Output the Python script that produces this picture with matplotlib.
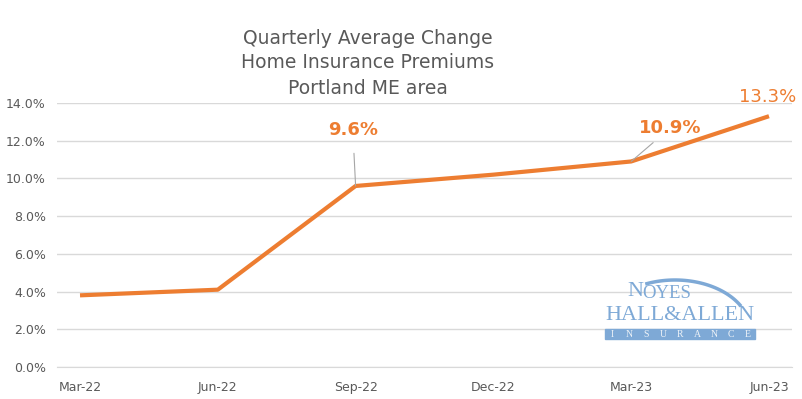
import numpy as np
import matplotlib.pyplot as plt
from matplotlib.patches import Rectangle
from matplotlib.lines import Line2D

quarters = ['Mar-22', 'Jun-22', 'Sep-22', 'Dec-22', 'Mar-23', 'Jun-23']
change = [3.8, 4.1, 9.6, 10.2, 10.9, 13.3]
yticks = [0, 2, 4, 6, 8, 10, 12, 14]

orange = '#ED7D31'
gray = '#595959'

fig = plt.figure(figsize=(8.02, 3.99), dpi=100)
ax = fig.add_axes([57 / 802, 32 / 399, 735 / 802, 264 / 399])

x = np.arange(len(quarters))
ax.plot(x, change, color=orange, lw=3, solid_capstyle='butt', zorder=3)

ax.set_xlim(-0.167, len(quarters) - 1 + 0.167)
ax.set_ylim(0, 14)
ax.set_yticks(yticks)
ax.set_yticklabels([f'{v:.1f}%' for v in yticks], fontsize=9, color=gray)
ax.set_xticks(x)
ax.set_xticklabels(quarters, fontsize=9, color=gray)
ax.tick_params(length=0, pad=8)
ax.tick_params(axis='x', pad=10)
ax.grid(axis='y', color='#D9D9D9', lw=1)
ax.set_axisbelow(True)
for s in ['top', 'right', 'left']:
    ax.spines[s].set_visible(False)
ax.spines['bottom'].set_color('#D9D9D9')

# data labels
ax.annotate('9.6%', xy=(x[2], change[2]), xytext=(-2, 40), textcoords='offset points',
            ha='center', va='center', fontsize=13, fontweight='bold', color=orange,
            arrowprops=dict(arrowstyle='-', color='#A6A6A6', lw=0.8, shrinkA=8, shrinkB=0))
ax.annotate('10.9%', xy=(x[4], change[4]), xytext=(28, 24), textcoords='offset points',
            ha='center', va='center', fontsize=13, fontweight='bold', color=orange,
            arrowprops=dict(arrowstyle='-', color='#A6A6A6', lw=0.8, shrinkA=3, shrinkB=0))
ax.annotate('13.3%', xy=(x[5], change[5]), xytext=(-1, 14), textcoords='offset points',
            ha='center', va='center', fontsize=13, color=orange)

for i, line in enumerate(['Quarterly Average Change', 'Home Insurance Premiums', 'Portland ME area']):
    fig.text(368 / 802, 1 - (38 + 25 * i) / 399, line, ha='center', va='center',
             fontsize=13.5, color=gray)

# logo
blue = '#7EA9D6'
fig.patches.append(Rectangle((605 / 802, 1 - 339 / 399), 150 / 802, 10 / 399,
                             transform=fig.transFigure, color=blue, zorder=5))
for i, ch in enumerate('INSURANCE'):
    fig.text((612 + i * 17) / 802, 1 - 334.5 / 399, ch, ha='center', va='center',
             fontsize=7, color='#EEF3F8', family='Liberation Serif', zorder=6)
fig.text(680 / 802, 1 - 315 / 399, 'HALL&ALLEN', ha='center', va='center',
         fontsize=16, color=blue, family='Liberation Serif', zorder=6)
fig.text(635 / 802, 1 - 292 / 399, 'N', ha='center', va='center',
         fontsize=16, color=blue, family='Liberation Serif', zorder=6)
fig.text(642 / 802, 1 - 294 / 399, 'OYES', ha='left', va='center',
         fontsize=13.5, color=blue, family='Liberation Serif', zorder=6)
t = np.linspace(np.radians(30), np.radians(112), 40)
fig.add_artist(Line2D((675 + 75 * np.cos(t)) / 802, 1 - (330 - 50 * np.sin(t)) / 399,
                      transform=fig.transFigure, color=blue, lw=2.5, zorder=5))

fig.savefig('out.png', dpi=100)
